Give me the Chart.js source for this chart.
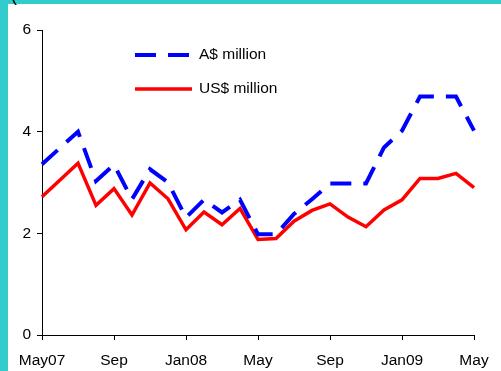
<!DOCTYPE html>
<html>
<head>
<meta charset="utf-8">
<script src="https://cdn.jsdelivr.net/npm/chart.js@4.4.1/dist/chart.umd.min.js"></script>
<style>
    html, body { margin: 0; padding: 0; background: #fff; }
    #wrap { position: relative; width: 501px; height: 371px; overflow: hidden; background: #fff; }
    #left { position: absolute; left: 0; top: 0; width: 8px; height: 371px; background: #33cccc; }
    #top { position: absolute; left: 0; top: 0; width: 501px; height: 4px; background: #33cccc; }
    #paren { position: absolute; left: 11px; top: -15px; font: 18px "Liberation Sans", Arial, sans-serif; color: #000; }
    canvas { position: absolute; left: 0; top: 0; }
</style>
</head>
<body>
<div id="wrap">
    <canvas id="myChart" width="501" height="371"></canvas>
    <div id="left"></div>
    <div id="top"></div>
    <div id="paren">(</div>
</div>
<script>
const months = ['May07', 'Jun07', 'Jul07', 'Aug07', 'Sep07', 'Oct07', 'Nov07', 'Dec07',
    'Jan08', 'Feb08', 'Mar08', 'Apr08', 'May08', 'Jun08', 'Jul08', 'Aug08', 'Sep08',
    'Oct08', 'Nov08', 'Dec08', 'Jan09', 'Feb09', 'Mar09', 'Apr09', 'May09'];
const tickLabels = ['May07', 'Sep', 'Jan08', 'May', 'Sep', 'Jan09', 'May'];
const audValues = [3.36, 3.68, 4.0, 3.03, 3.35, 2.67, 3.26, 3.0, 2.31, 2.66, 2.41, 2.66, 1.98,
    1.98, 2.38, 2.67, 2.98, 2.98, 2.98, 3.69, 4.02, 4.69, 4.69, 4.69, 4.02];
const usdValues = [2.72, 3.05, 3.38, 2.55, 2.88, 2.36, 2.99, 2.68, 2.07, 2.42, 2.17, 2.49, 1.88,
    1.90, 2.24, 2.45, 2.58, 2.32, 2.13, 2.46, 2.66, 3.08, 3.08, 3.18, 2.90];
const seriesNames = ['A$ million', 'US$ million'];

const font = { family: '"Liberation Sans", Arial, sans-serif', size: 15.5 };

// legend drawn inside the plot, like the original
const innerLegend = {
    id: 'innerLegend',
    afterDatasetsDraw(chart) {
        const ctx = chart.ctx;
        const area = chart.chartArea;
        chart.data.datasets.forEach((ds, i) => {
            const x = area.left + 93;
            const y = area.top + 25 + 34 * i;
            ctx.save();
            ctx.strokeStyle = ds.borderColor;
            ctx.lineWidth = ds.borderWidth;
            ctx.setLineDash(ds.borderDash || []);
            ctx.beginPath();
            ctx.moveTo(x, y);
            ctx.lineTo(x + 57, y);
            ctx.stroke();
            ctx.setLineDash([]);
            ctx.fillStyle = '#000';
            ctx.font = font.size + 'px ' + font.family;
            ctx.textBaseline = 'middle';
            ctx.fillText(ds.label, x + 64, y);
            ctx.restore();
        });
    }
};

const ctx = document.getElementById('myChart').getContext('2d');
new Chart(ctx, {
    type: 'line',
    data: {
        labels: months,
        datasets: [
            {
                label: seriesNames[0],
                data: audValues,
                borderColor: '#0000ff',
                borderWidth: 4,
                borderDash: [21, 12],
                pointRadius: 0,
                tension: 0,
            },
            {
                label: seriesNames[1],
                data: usdValues,
                borderColor: '#ff0000',
                borderWidth: 3.5,
                pointRadius: 0,
                tension: 0,
            },
        ],
    },
    options: {
        responsive: false,
        animation: false,
        devicePixelRatio: 1,
        layout: { padding: { top: 30, right: 27, bottom: 0, left: 0 } },
        plugins: {
            legend: { display: false },
            tooltip: { enabled: false },
        },
        scales: {
            x: {
                offset: false,
                afterFit(scale) { scale.height = 36; },
                border: { display: true, color: '#000', width: 1 },
                grid: {
                    drawOnChartArea: false,
                    drawTicks: true,
                    tickLength: 5,
                    tickColor: (c) => (c.index % 4 === 0 ? '#000' : 'rgba(0,0,0,0)'),
                },
                ticks: {
                    autoSkip: false,
                    maxRotation: 0,
                    padding: 11,
                    color: '#000',
                    font: font,
                    callback: (v, i) => (i % 4 === 0 ? tickLabels[i / 4] : ''),
                },
            },
            y: {
                min: 0,
                max: 6,
                afterFit(scale) { scale.width = 42; },
                border: { display: true, color: '#000', width: 1 },
                grid: {
                    drawOnChartArea: false,
                    drawTicks: true,
                    tickLength: 5,
                    tickColor: '#000',
                },
                ticks: {
                    stepSize: 2,
                    padding: 6,
                    color: '#000',
                    font: font,
                },
            },
        },
    },
    plugins: [innerLegend],
});
</script>
</body>
</html>
